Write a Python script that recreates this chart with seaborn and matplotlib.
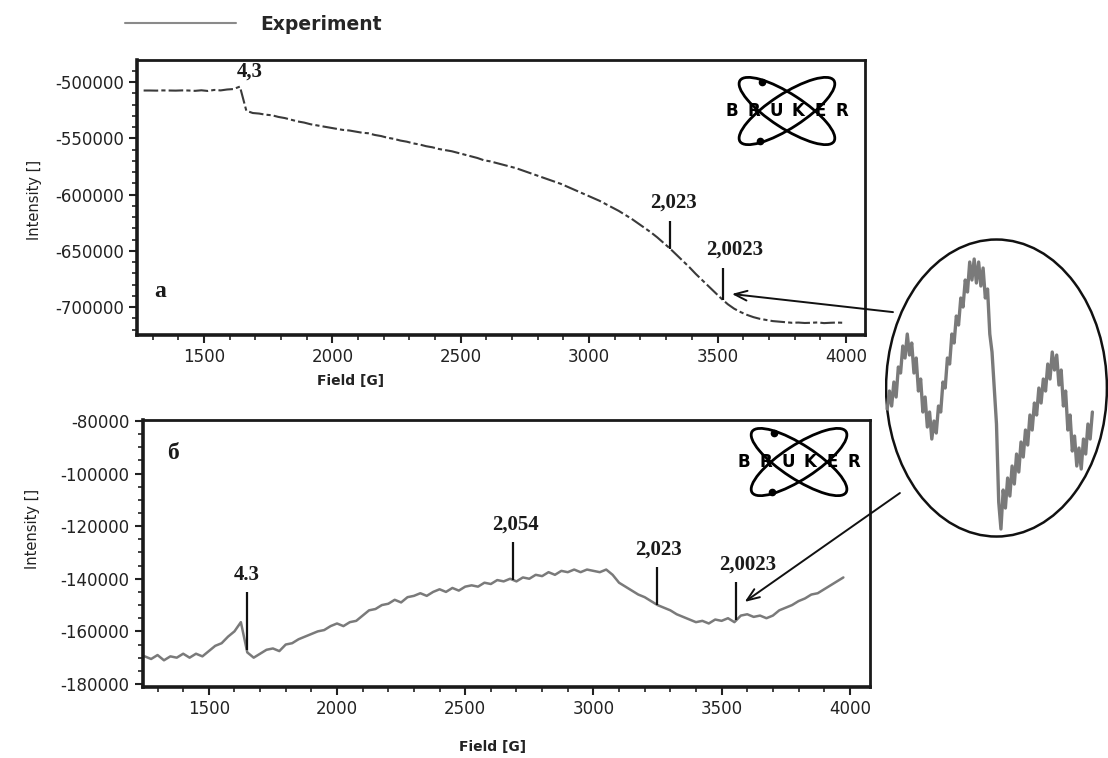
import numpy as np
import pandas as pd
import seaborn as sns
import matplotlib.pyplot as plt
from matplotlib.patches import Ellipse
from matplotlib.lines import Line2D
from matplotlib.ticker import MultipleLocator, FuncFormatter

# Spectrum (a): intensity in thousands, field sampled every 25 G from 1265 G
field_a = np.arange(1265, 4000, 25)
intensity_a = [
    -507.5, -507.5, -507.6, -507.4, -507.5, -507.6, -507.4, -507.5, -507.8, -507.3,
    -507.9, -507.0, -507.4, -506.6, -506.2, -504.0, -525.5, -527.5, -528.0, -529.0,
    -529.5, -531.0, -532.0, -533.5, -535.0, -536.0, -537.5, -538.5, -539.5, -540.5,
    -541.5, -542.5, -543.0, -544.0, -545.0, -545.5, -547.0, -548.0, -549.5, -550.5,
    -552.0, -553.0, -554.5, -555.5, -557.0, -558.0, -559.5, -560.5, -561.5, -563.0,
    -564.5, -566.0, -567.5, -569.5, -570.5, -572.0, -573.5, -575.0, -576.5, -578.5,
    -580.5, -582.5, -584.5, -586.5, -588.5, -590.5, -593.0, -595.5, -598.0, -600.5,
    -603.0, -605.5, -608.5, -611.5, -614.5, -618.0, -621.5, -625.5, -629.5, -633.5,
    -638.0, -643.0, -648.0, -653.5, -659.0, -664.5, -670.5, -676.0, -681.5, -687.0,
    -692.5, -697.5, -701.5, -704.5, -707.0, -709.0, -710.5, -711.5, -712.5, -713.0,
    -713.5, -714.0, -713.8, -714.2, -714.0, -713.7, -714.3, -714.0, -713.8, -714.0,
]

# Spectrum (б): intensity in thousands, field sampled every 25 G from 1250 G
field_b = np.arange(1250, 4000, 25)
intensity_b = [
    -169.5, -170.5, -169.0, -171.0, -169.5, -170.0, -168.5, -170.0, -168.5, -169.5,
    -167.5, -165.5, -164.5, -162.0, -160.0, -156.5, -168.0, -170.0, -168.5, -167.0,
    -166.5, -167.5, -165.0, -164.5, -163.0, -162.0, -161.0, -160.0, -159.5, -158.0,
    -157.0, -158.0, -156.5, -156.0, -154.0, -152.0, -151.5, -150.0, -149.5, -148.0,
    -149.0, -147.0, -146.5, -145.5, -146.5, -145.0, -144.0, -145.0, -143.5, -144.5,
    -143.0, -142.5, -143.0, -141.5, -142.0, -140.5, -141.0, -140.0, -141.0, -139.5,
    -140.0, -138.5, -139.0, -137.5, -138.5, -137.0, -137.5, -136.5, -137.5, -136.5,
    -137.0, -137.5, -136.5, -138.5, -141.5, -143.0, -144.5, -146.0, -147.0, -148.5,
    -150.0, -151.0, -152.0, -153.5, -154.5, -155.5, -156.5, -156.0, -157.0, -155.5,
    -156.0, -155.0, -156.5, -154.0, -153.5, -154.5, -154.0, -155.0, -154.0, -152.0,
    -151.0, -150.0, -148.5, -147.5, -146.0, -145.5, -144.0, -142.5, -141.0, -139.5,
]

# magnified fragment around g = 2,0023 (relative units)
zoom_x = np.arange(1, 94) / 100
zoom_y = [
    0.43, 0.49, 0.44, 0.52, 0.47, 0.57, 0.55, 0.64, 0.60, 0.68,
    0.61, 0.65, 0.55, 0.60, 0.49, 0.53, 0.42, 0.47, 0.37, 0.42,
    0.33, 0.39, 0.35, 0.44, 0.42, 0.52, 0.50, 0.60, 0.58, 0.68,
    0.65, 0.74, 0.71, 0.80, 0.77, 0.86, 0.82, 0.92, 0.86, 0.93,
    0.85, 0.92, 0.84, 0.90, 0.80, 0.83, 0.68, 0.62, 0.50, 0.38,
    0.12, 0.03, 0.16, 0.10, 0.20, 0.14, 0.24, 0.18, 0.28, 0.22,
    0.32, 0.27, 0.36, 0.31, 0.41, 0.36, 0.45, 0.41, 0.50, 0.45,
    0.53, 0.49, 0.58, 0.53, 0.62, 0.56, 0.61, 0.51, 0.56, 0.44,
    0.49, 0.36, 0.41, 0.29, 0.34, 0.24, 0.30, 0.23, 0.33, 0.28,
    0.38, 0.33, 0.42,
]

# g-factor markers
g_labels_a = ['2,023', '2,0023']
g_fields_a = [3316, 3523]
g_labels_b = ['4.3', '2,054', '2,023', '2,0023']
g_fields_b = [1648, 2687, 3250, 3558]

sns.set_style('ticks')
plt.rcParams['font.family'] = ['DejaVu Sans']
plt.rcParams['axes.unicode_minus'] = False

fig = plt.figure(figsize=(11.08, 7.58), dpi=100)
ax_a = fig.add_axes([0.1236, 0.558, 0.657, 0.3628])
ax_b = fig.add_axes([0.129, 0.0937, 0.656, 0.3523])

df_a = pd.DataFrame({'Field [G]': field_a, 'Intensity': np.array(intensity_a) * 1000})
df_b = pd.DataFrame({'Field [G]': field_b, 'Intensity': np.array(intensity_b) * 1000})

sns.lineplot(data=df_a, x='Field [G]', y='Intensity', ax=ax_a, color='#3a3a3a',
             lw=1.5, linestyle=(0, (7, 1.5, 2, 1.5)))
sns.lineplot(data=df_b, x='Field [G]', y='Intensity', ax=ax_b, color='#7a7a7a', lw=1.8)

ax_a.set_xlim(1239, 4074)
ax_a.set_ylim(-724900, -480400)
ax_b.set_xlim(1243, 4078)
ax_b.set_ylim(-181140, -79620)

fmt = FuncFormatter(lambda v, p: f'{v:.0f}')
for ax, ystep, yminor in [(ax_a, 50000, 10000), (ax_b, 20000, 5000)]:
    ax.xaxis.set_major_locator(MultipleLocator(500))
    ax.xaxis.set_minor_locator(MultipleLocator(100))
    ax.yaxis.set_major_locator(MultipleLocator(ystep))
    ax.yaxis.set_minor_locator(MultipleLocator(yminor))
    ax.yaxis.set_major_formatter(fmt)
    ax.tick_params(which='major', direction='out', length=6, width=1.5,
                   labelsize=12, color='#222222', labelcolor='#222222')
    ax.tick_params(which='minor', direction='out', length=3.5, width=1.2, color='#222222')
    for side, s in ax.spines.items():
        s.set_visible(True)
        s.set_color('#1a1a1a')
        s.set_linewidth(2.6 if side in ('left', 'bottom') else 2.0)
    ax.set_xlabel('Field [G]', fontsize=10, fontweight='bold', color='#222222')
    ax.set_ylabel('Intensity []', fontsize=10.5, color='#222222')

ax_a.xaxis.set_label_coords(0.293, -0.14)
ax_a.yaxis.set_label_coords(-0.13, 0.49)
ax_b.xaxis.set_label_coords(0.481, -0.20)
ax_b.yaxis.set_label_coords(-0.142, 0.59)

serif = dict(family='Liberation Serif', fontweight='bold', color='#1a1a1a')

# markers on (a)
for lab, f, length, dx in zip(g_labels_a, g_fields_a, [25000, 29000], [2, 8]):
    y0 = np.interp(f, field_a, np.array(intensity_a) * 1000)
    ax_a.vlines(f, y0, y0 + length, color='#111111', lw=1.6)
    ax_a.annotate(lab, xy=(f, y0 + length), xytext=(dx, 6), textcoords='offset points',
                  ha='center', va='bottom', fontsize=15, **serif)
ax_a.text(1680, -491000, '4,3', ha='center', va='center', fontsize=15, **serif)
ax_a.text(1328, -686000, 'a', ha='center', va='center', fontsize=17, **serif)

# markers on (б)
for lab, f, length, dx in zip(g_labels_b, g_fields_b, [22000, 14500, 14500, 14500], [0, 2, 1, 8]):
    y0 = np.interp(f, field_b, np.array(intensity_b) * 1000)
    ax_b.vlines(f, y0, y0 + length, color='#111111', lw=1.6)
    ax_b.annotate(lab, xy=(f, y0 + length), xytext=(dx, 5), textcoords='offset points',
                  ha='center', va='bottom', fontsize=15, **serif)
ax_b.text(1360, -92400, 'б', ha='center', va='center', fontsize=17, **serif)


def bruker_logo(rect):
    lax = fig.add_axes(rect)
    lax.set_xlim(0, 130)
    lax.set_ylim(0, 70)
    lax.axis('off')
    for ang in (33, -33):
        lax.add_patch(Ellipse((65, 35), 112, 34, angle=ang, fill=False, lw=2.0, ec='black'))
    for i, ch in enumerate('BRUKER'):
        lax.text(10 + i * 22, 35, ch, ha='center', va='center', fontsize=12,
                 fontweight='bold', color='black')
    lax.plot([40, 38], [64, 5], 'o', color='black', ms=4.5)
    return lax


bruker_logo([0.6516, 0.8074, 0.1173, 0.0923])
bruker_logo([0.6625, 0.3443, 0.1173, 0.0923])

# circular magnified inset
ax_in = fig.add_axes([0.7987, 0.2902, 0.2013, 0.3958])
ax_in.set_xlim(0, 1)
ax_in.set_ylim(0, 1)
ax_in.axis('off')
ax_in.add_patch(Ellipse((0.5, 0.5), 0.99, 0.99, transform=ax_in.transAxes,
                        fill=False, lw=1.8, ec='#111111'))
sns.lineplot(x=zoom_x, y=zoom_y, ax=ax_in, color='#7a7a7a', lw=2.4)

arrow = dict(arrowstyle='->,head_length=0.9,head_width=0.35', color='#111111', lw=1.4,
             shrinkA=0, shrinkB=0)
ax_a.annotate('', xy=(3556, -688400), xycoords='data',
              xytext=(0.036, 0.753), textcoords=ax_in.transAxes, arrowprops=arrow)
ax_b.annotate('', xy=(3590, -148800), xycoords='data',
              xytext=(0.067, 0.15), textcoords=ax_in.transAxes, arrowprops=arrow)

fig.legend(handles=[Line2D([], [], color='#8a8a8a', lw=1.5)], labels=['Experiment'],
           loc='center left', bbox_to_anchor=(125 / 1108, 1 - 24 / 758),
           frameon=False, handlelength=5.9, handletextpad=1.3, borderpad=0,
           borderaxespad=0, prop=dict(size=13.5, weight='bold'))

fig.savefig('out.png', dpi=100)
